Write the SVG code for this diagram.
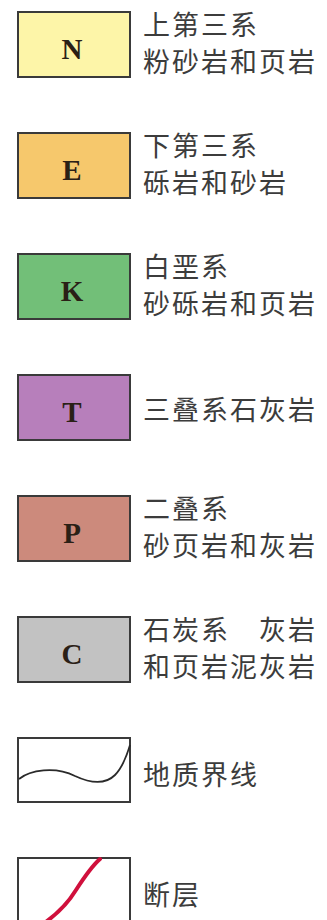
<svg xmlns="http://www.w3.org/2000/svg" width="327" height="920" viewBox="0 0 327 920">
<style>
.box{stroke:#3a3a3a;stroke-width:2}
.sym{font-family:"Liberation Serif","Times New Roman",serif;font-size:29px;font-weight:bold;fill:#2a2016;text-anchor:middle}
.lbl{font-family:"Noto Sans CJK SC","Noto Sans CJK TC",sans-serif;font-size:27px;letter-spacing:2px;fill:#3c3c3c}
</style>
<rect width="327" height="920" fill="#ffffff"/>
<g id="N">
<rect class="box" x="18" y="12" width="112" height="65" fill="#fdf5a8"/>
<text class="sym" x="72" y="59">N</text>
<text class="lbl" x="143" y="35">上第三系</text>
<text class="lbl" x="143" y="72">粉砂岩和页岩</text>
</g>
<g id="E">
<rect class="box" x="18" y="133" width="112" height="65" fill="#f6c86c"/>
<text class="sym" x="72" y="180">E</text>
<text class="lbl" x="143" y="156">下第三系</text>
<text class="lbl" x="143" y="193">砾岩和砂岩</text>
</g>
<g id="K">
<rect class="box" x="18" y="254" width="112" height="65" fill="#72bf78"/>
<text class="sym" x="72" y="301">K</text>
<text class="lbl" x="143" y="277">白垩系</text>
<text class="lbl" x="143" y="314">砂砾岩和页岩</text>
</g>
<g id="T">
<rect class="box" x="18" y="375" width="112" height="65" fill="#b77fbb"/>
<text class="sym" x="72" y="422">T</text>
<text class="lbl" x="143" y="420">三叠系石灰岩</text>
</g>
<g id="P">
<rect class="box" x="18" y="496" width="112" height="65" fill="#cc8a7c"/>
<text class="sym" x="72" y="543">P</text>
<text class="lbl" x="143" y="519">二叠系</text>
<text class="lbl" x="143" y="556">砂页岩和灰岩</text>
</g>
<g id="C">
<rect class="box" x="18" y="617" width="112" height="65" fill="#c2c2c2"/>
<text class="sym" x="72" y="664">C</text>
<text class="lbl" x="143" y="640" xml:space="preserve">石炭系　灰岩</text>
<text class="lbl" x="143" y="677">和页岩泥灰岩</text>
</g>
<g id="boundary">
<rect class="box" x="18" y="738" width="112" height="64" fill="#ffffff"/>
<path d="M19,779 C30,770 55,766 75,776 C90,783 105,785 115,775 C123,767 127,755 130,745" fill="none" stroke="#2a2a2a" stroke-width="1.8"/>
<text class="lbl" x="143" y="785">地质界线</text>
</g>
<g id="fault">
<rect class="box" x="18" y="858" width="112" height="70" fill="#ffffff"/>
<path d="M100,859 C92,866 85,876 76,890 C68,903 58,913 47,921" fill="none" stroke="#d0103c" stroke-width="4" stroke-linecap="round"/>
<text class="lbl" x="143" y="905">断层</text>
</g>
</svg>
